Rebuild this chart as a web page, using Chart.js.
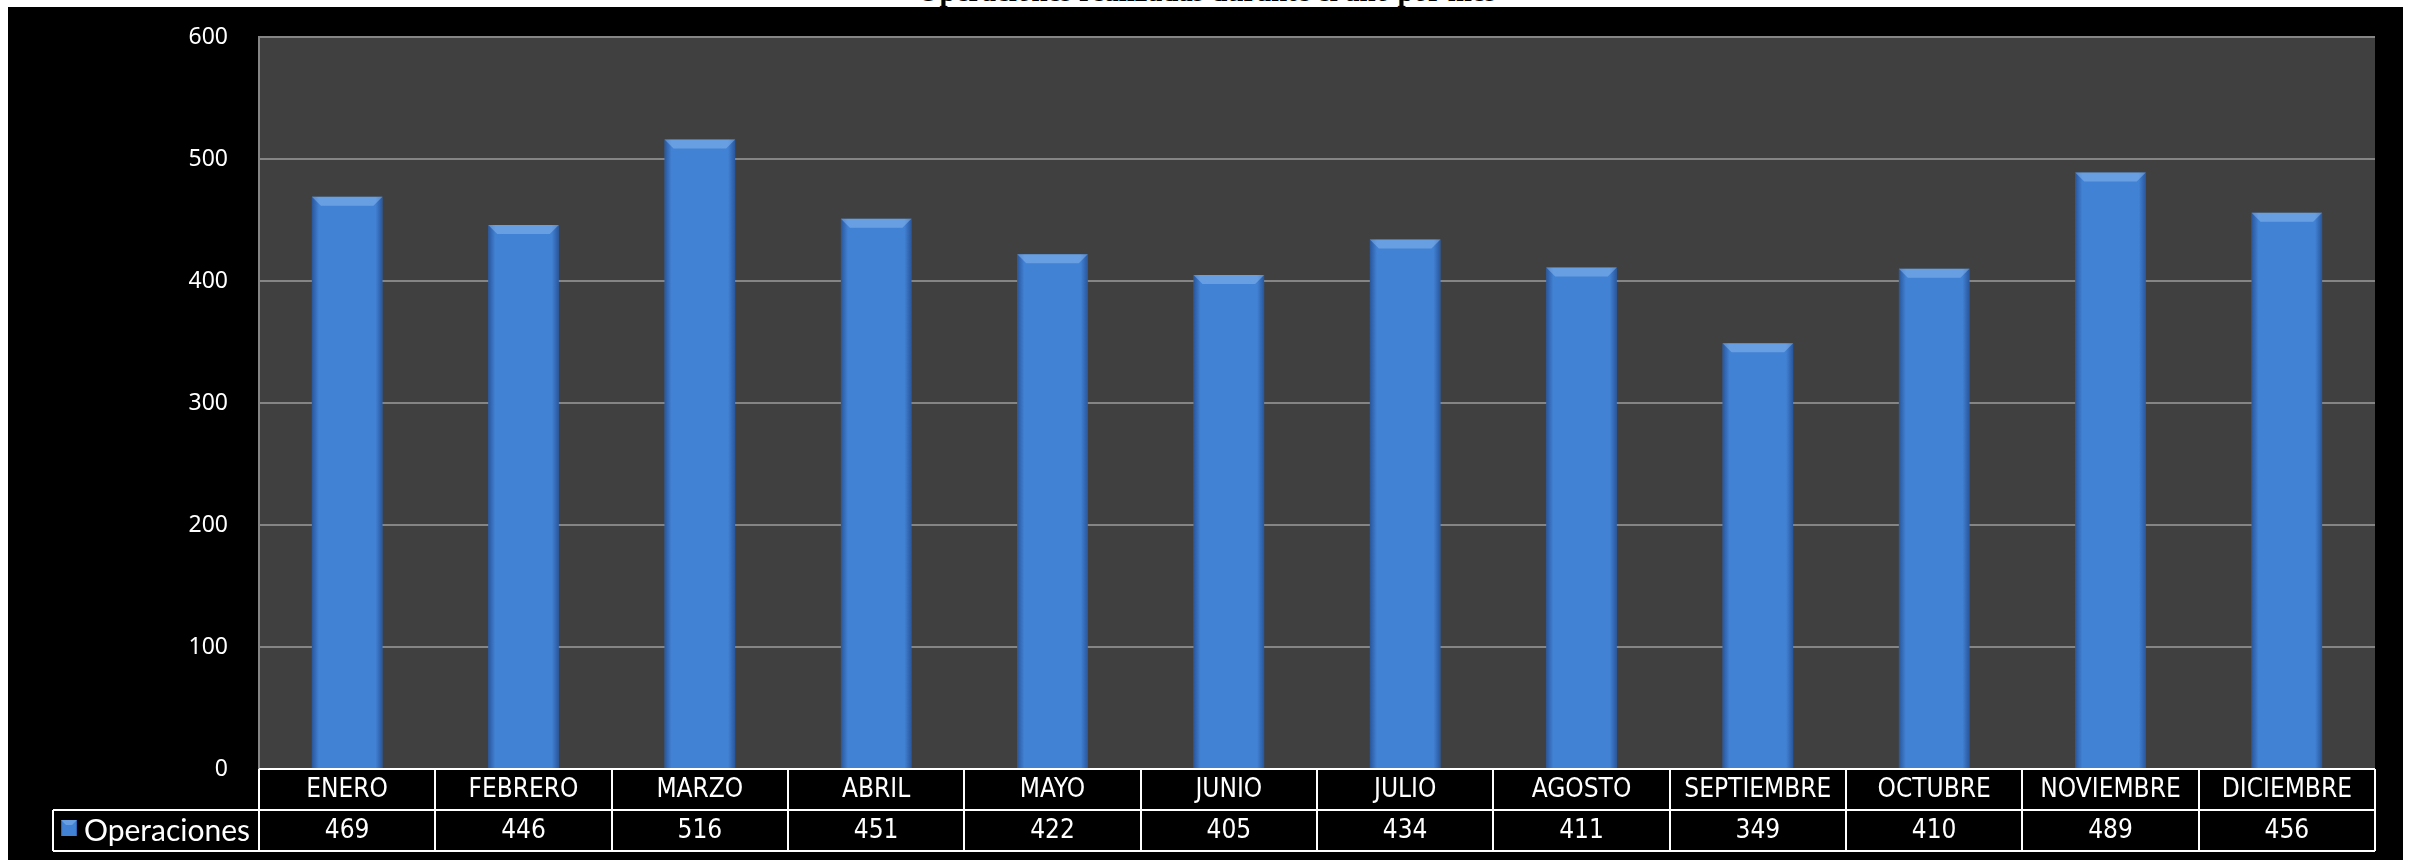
<!DOCTYPE html>
<html>
<head>
<meta charset="utf-8">
<script src="https://cdn.jsdelivr.net/npm/chart.js@4.4.1/dist/chart.umd.min.js"></script>
<style>
  body { margin: 0; background: #fff; width: 2413px; height: 860px; overflow: hidden; position: relative; }
  #titulo { position: absolute; left: 0; width: 2413px; top: -25px; line-height: 28px; text-align: center;
            font: bold 29px "Liberation Serif", serif; color: #000; }
  #grafico { position: absolute; left: 0; top: 0; }
</style>
</head>
<body>
<div id="titulo">Operaciones realizadas durante el año por mes</div>
<canvas id="grafico" width="2413" height="860"></canvas>
<script>
const categorias = ["ENERO", "FEBRERO", "MARZO", "ABRIL", "MAYO", "JUNIO", "JULIO", "AGOSTO", "SEPTIEMBRE", "OCTUBRE", "NOVIEMBRE", "DICIEMBRE"];
const operaciones = [469, 446, 516, 451, 422, 405, 434, 411, 349, 410, 489, 456];
const serieNombre = "Operaciones";
const yMin = 0, yMax = 600, yPaso = 100;

const tablaFont = '26px "Liberation Sans Narrow", "DejaVu Sans Condensed", sans-serif';

// black frame + dark plot background
const fondo = {
    id: "fondo",
    beforeDraw(chart) {
        const ctx = chart.ctx, a = chart.chartArea;
        ctx.save();
        ctx.fillStyle = "#000";
        ctx.fillRect(8, 7, 2395, 853);
        ctx.fillStyle = "#404040";
        ctx.fillRect(a.left, a.top, a.right - a.left, a.bottom - a.top);
        ctx.restore();
    }
};

function bisel(ctx, left, top, right, bottom, b) {
    // side shading
    let g = ctx.createLinearGradient(left, 0, right, 0);
    g.addColorStop(0, "rgba(20,50,110,0.55)");
    g.addColorStop(0.1, "rgba(20,50,110,0)");
    g.addColorStop(0.9, "rgba(20,50,110,0)");
    g.addColorStop(1, "rgba(20,50,110,0.55)");
    ctx.fillStyle = g;
    ctx.fillRect(left, top, right - left, bottom - top);
    // top bevel
    ctx.beginPath();
    ctx.moveTo(left, top);
    ctx.lineTo(right, top);
    ctx.lineTo(right - b, top + b);
    ctx.lineTo(left + b, top + b);
    ctx.closePath();
    ctx.fillStyle = "rgba(150,195,245,0.45)";
    ctx.fill();
}

const barras3d = {
    id: "barras3d",
    afterDatasetsDraw(chart) {
        const ctx = chart.ctx;
        const meta = chart.getDatasetMeta(0);
        ctx.save();
        meta.data.forEach(bar => {
            const w = bar.width;
            bisel(ctx, bar.x - w / 2, bar.y, bar.x + w / 2, bar.base, 9);
        });
        ctx.restore();
    }
};

// data table under the plot
const tabla = {
    id: "tabla",
    afterDraw(chart) {
        const ctx = chart.ctx, x = chart.scales.x, a = chart.chartArea;
        const paso = (a.right - a.left) / categorias.length;
        const y0 = a.bottom, y1 = 810, y2 = 851, xl = 53;
        ctx.save();
        ctx.strokeStyle = "#fff";
        ctx.lineWidth = 2;
        ctx.beginPath();
        ctx.moveTo(a.left, y0); ctx.lineTo(a.right, y0);
        ctx.moveTo(xl, y1); ctx.lineTo(a.right, y1);
        ctx.moveTo(xl, y2); ctx.lineTo(a.right, y2);
        ctx.moveTo(xl, y1); ctx.lineTo(xl, y2);
        for (let i = 0; i <= categorias.length; i++) {
            const px = Math.round(x.getPixelForValue(i) - paso / 2);
            ctx.moveTo(px, y0); ctx.lineTo(px, y2);
        }
        ctx.stroke();

        ctx.fillStyle = "#fff";
        ctx.font = tablaFont;
        ctx.textAlign = "center";
        ctx.textBaseline = "middle";
        categorias.forEach((c, i) => {
            const px = x.getPixelForValue(i);
            ctx.fillText(c, px, (y0 + y1) / 2 + 1);
            ctx.fillText(String(operaciones[i]), px, (y1 + y2) / 2 + 1);
        });

        // legend key + series name
        const kx = 61, ky = 820, ks = 16;
        ctx.fillStyle = "#4282d4";
        ctx.fillRect(kx, ky, ks, ks);
        bisel(ctx, kx, ky, kx + ks, ky + ks, 5);
        ctx.fillStyle = "#fff";
        ctx.textAlign = "left";
        ctx.font = '30px Lato, "Open Sans", sans-serif';
        ctx.fillText(serieNombre, 84, (y1 + y2) / 2 + 1);
        ctx.restore();
    }
};

new Chart(document.getElementById("grafico"), {
    type: "bar",
    data: {
        labels: categorias,
        datasets: [{
            label: serieNombre,
            data: operaciones,
            backgroundColor: "#4282d4",
            borderWidth: 0,
            categoryPercentage: 1,
            barPercentage: 0.4
        }]
    },
    options: {
        responsive: false,
        devicePixelRatio: 1,
        animation: false,
        layout: { padding: { left: 0, right: 38, top: 37, bottom: 91 } },
        plugins: { legend: { display: false }, tooltip: { enabled: false } },
        scales: {
            x: { display: false },
            y: {
                min: yMin,
                max: yMax,
                afterFit(scale) {
                    scale.width = 259;
                    scale.paddingTop = 0;
                    scale.paddingBottom = 0;
                },
                ticks: {
                    stepSize: yPaso,
                    color: "#fff",
                    padding: 31,
                    font: { family: '"Noto Sans", sans-serif', size: 23 }
                },
                grid: { color: "#858585", lineWidth: 2, drawTicks: false },
                border: { display: true, color: "#858585", width: 2 }
            }
        }
    },
    plugins: [fondo, barras3d, tabla]
});
</script>
</body>
</html>
